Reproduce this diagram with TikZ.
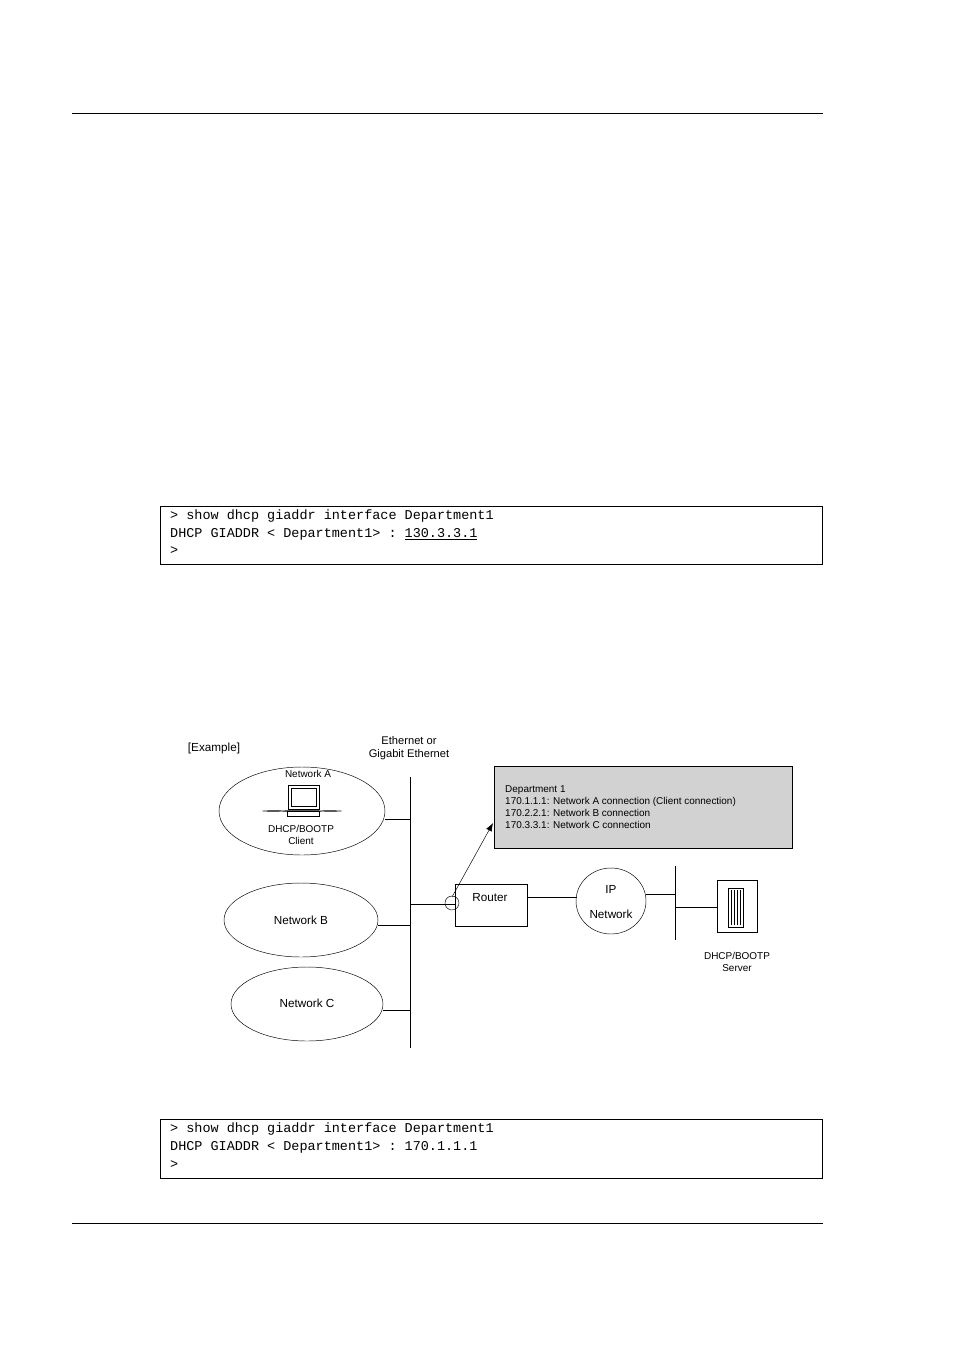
\documentclass[tikz,border=0pt]{standalone}
\usepackage{fontspec}
\setmainfont{Liberation Sans}
\setmonofont{Liberation Mono}
\usetikzlibrary{shapes, arrows, calc, positioning, arrows.meta}

\begin{document}
\begin{tikzpicture}[
  x=0.03cm, y=-0.03cm,
  every node/.style={font=\fontsize{10}{12}\selectfont, align=center, inner sep=0pt},
  net/.style={ellipse, draw, thin},
  codebox/.style={draw, thick},
  codeline/.style={anchor=west, font=\ttfamily\fontsize{11.5}{13}\selectfont},
  small/.style={font=\fontsize{8.5}{10}\selectfont},
  wire/.style={draw, thin}
]
\useasboundingbox (0,0) rectangle (954,1351);

% page rules
\draw[thin] (72,113) -- (823,113);
\draw[thin] (72,1223) -- (823,1223);

% first command box
\draw[codebox] (160,506) rectangle (822,564);
\node[codeline] (c1) at (170,516) {> show dhcp giaddr interface Department1};
\node[codeline] (c2) at (170,534) {DHCP GIADDR < Department1> : \underline{130.3.3.1}};
\node[codeline] (c3) at (170,551) {>};

% example diagram
\node (example) at (214,748) {[Example]};
\node[small, font=\fontsize{9.5}{11.5}\selectfont] (ethlabel) at (409,748) {Ethernet or\\Gigabit Ethernet};
\coordinate (bustop) at (410,777);
\coordinate (busbot) at (410,1048);
\draw[wire] (bustop) -- (busbot);

\node[net, minimum width=166\pgflinewidth, inner sep=0pt] (netA) at (302,811) {};
\draw[thin] (302,811) ellipse [x radius=83, y radius=44];
\node[small] (netAlabel) at (308,774) {Network A};
\draw[thin] (288,785) rectangle (319,809);
\draw[thin] (291,788) rectangle (316,806);
\draw[thin] (287,811) rectangle (319,816);
\node[small] (clientlabel) at (301,835) {DHCP/BOOTP\\Client};
\coordinate (aR) at (385,819);
\draw[wire] (aR) -- (aR -| bustop);

\draw[thin] (301,920) ellipse [x radius=77, y radius=37];
\node (netB) at (301,920) {Network B};
\coordinate (bR) at (378,925);
\draw[wire] (bR) -- (bR -| bustop);

\draw[thin] (307,1004) ellipse [x radius=76, y radius=37];
\node (netC) at (307,1003) {Network C};
\coordinate (cR) at (383,1010);
\draw[wire] (cR) -- (cR -| bustop);

% router
\node[draw, thin, minimum width=72*0.03cm, minimum height=42*0.03cm, anchor=north west] (router) at (455,884) {};
\node (routerlabel) at (490,898) {Router};
\coordinate (rL) at (455,904);
\draw[wire] (rL -| bustop) -- (rL);
\draw[thin] (452,903) circle [radius=7];
\coordinate (portA) at (452,897);

% info box
\node[draw, thin, fill=gray!35, minimum width=298*0.03cm, minimum height=82*0.03cm, anchor=north west] (info) at (494,766) {};
\node[small, anchor=west, align=left, font=\fontsize{8.5}{10.3}\selectfont] (infotext) at (505,807)
  {Department 1\\170.1.1.1: Network A connection (Client connection)\\170.2.2.1: Network B connection\\170.3.3.1: Network C connection};
\coordinate (infotip) at (493,823);
\draw[thin, -{Latex[length=7pt]}] (portA) -- (infotip);

% IP network
\draw[thin] (611,901) ellipse [x radius=35, y radius=33];
\node (iplabel) at (611,889) {IP};
\node (ipnet) at (611,914) {Network};
\draw[wire] (527,897) -- (577,897);
\coordinate (lanTop) at (675,866);
\coordinate (lanBot) at (675,940);
\draw[wire] (lanTop) -- (lanBot);
\draw[wire] (646,894) -- (675,894);

% server
\node[draw, thin, minimum width=40*0.03cm, minimum height=52*0.03cm, anchor=north west] (server) at (717,880) {};
\draw[thin] (728,888) rectangle (743,927);
\foreach \i in {731,734,737,740} \draw[very thin] (\i,890) -- (\i,925);
\draw[wire] (675,907) -- (server.west |- 0,907);
\node[small] (serverlabel) at (737,962) {DHCP/BOOTP\\Server};

% second command box
\draw[codebox] (160,1119) rectangle (822,1178);
\node[codeline] (d1) at (170,1129) {> show dhcp giaddr interface Department1};
\node[codeline] (d2) at (170,1147) {DHCP GIADDR < Department1> : 170.1.1.1};
\node[codeline] (d3) at (170,1165) {>};
\end{tikzpicture}
\end{document}
